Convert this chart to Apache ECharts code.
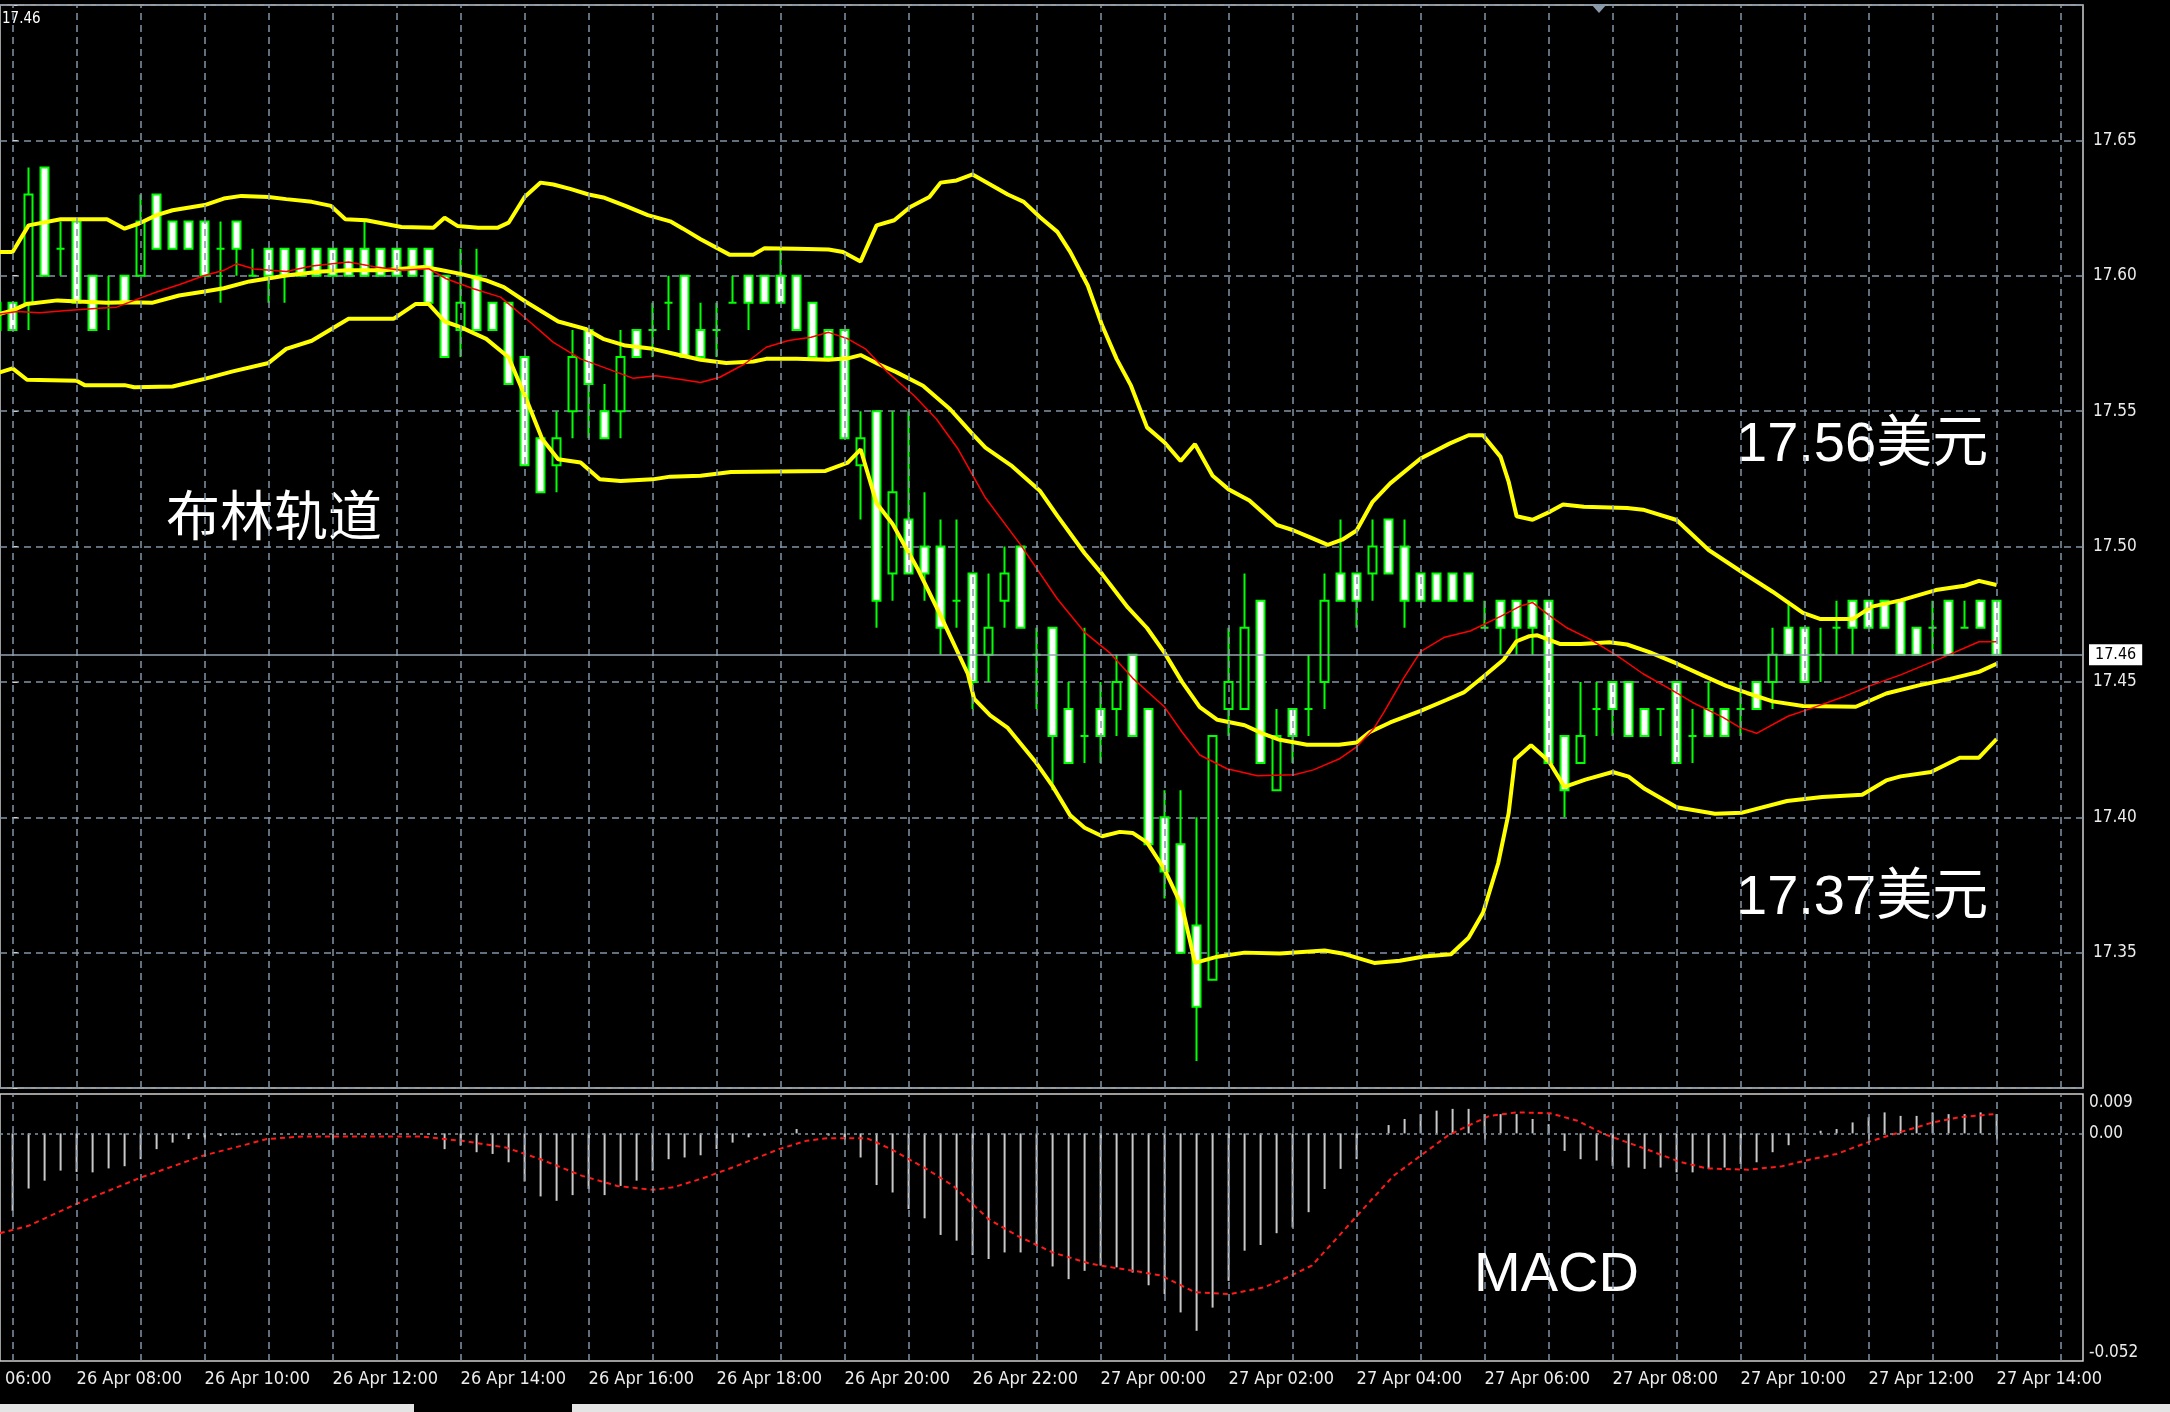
<!DOCTYPE html>
<html><head><meta charset="utf-8">
<script src="https://cdn.jsdelivr.net/npm/echarts@6/dist/echarts.min.js"></script>
<style>html,body{margin:0;padding:0;background:#000;overflow:hidden}#c{width:2170px;height:1412px}</style>
</head><body><div id="c"></div><script>
// ---- time axis: k = 15-minute step index, k=0 is 26 Apr 07:00 ----
const X_MIN = -0.7875;       // left edge of plot
const X_MAX = 129.4;         // right edge of plot
const FIRST_K = -1;          // first candle: 26 Apr 06:45
const hourTicks = [0,4,8,12,16,20,24,28,32,36,40,44,48,52,56,60,64,68,72,76,80,84,88,92,96,100,104,108,112,116,120,124,128];
const labelTicks = [4,12,20,28,36,44,52,60,68,76,84,92,100,108,116,124];
const timeLabels = ['26 Apr 08:00','26 Apr 10:00','26 Apr 12:00','26 Apr 14:00','26 Apr 16:00',
  '26 Apr 18:00','26 Apr 20:00','26 Apr 22:00','27 Apr 00:00','27 Apr 02:00','27 Apr 04:00','27 Apr 06:00',
  '27 Apr 08:00','27 Apr 10:00','27 Apr 12:00','27 Apr 14:00'];
const cutLabel = '26 Apr 06:00';

// ---- M15 candles (k = -1 .. 124) ----
const opens = [
17.59,17.59,17.59,17.64,17.61,17.62,17.60,17.59,17.60,17.60,
17.63,17.62,17.62,17.62,17.61,17.62,17.60,17.61,17.61,17.61,
17.61,17.61,17.61,17.61,17.61,17.61,17.61,17.61,17.60,17.58,
17.60,17.59,17.59,17.57,17.54,17.53,17.55,17.58,17.55,17.55,
17.58,17.58,17.59,17.60,17.58,17.58,17.59,17.60,17.60,17.60,
17.60,17.59,17.58,17.58,17.53,17.55,17.49,17.51,17.50,17.50,
17.48,17.49,17.46,17.48,17.50,17.46,17.47,17.44,17.43,17.44,
17.44,17.46,17.44,17.40,17.39,17.36,17.34,17.44,17.44,17.48,
17.41,17.44,17.44,17.45,17.49,17.49,17.49,17.51,17.50,17.49,
17.49,17.49,17.49,17.47,17.48,17.48,17.48,17.48,17.43,17.42,
17.44,17.45,17.45,17.44,17.44,17.45,17.43,17.44,17.44,17.44,
17.45,17.45,17.47,17.47,17.46,17.47,17.48,17.48,17.48,17.48,
17.47,17.47,17.48,17.47,17.48,17.48];
const closes = [
17.58,17.58,17.63,17.60,17.61,17.59,17.58,17.59,17.59,17.62,
17.61,17.61,17.61,17.60,17.61,17.61,17.60,17.60,17.60,17.60,
17.60,17.60,17.60,17.60,17.60,17.60,17.60,17.59,17.57,17.59,
17.58,17.58,17.56,17.53,17.52,17.54,17.57,17.56,17.54,17.57,
17.57,17.58,17.59,17.57,17.57,17.58,17.59,17.59,17.59,17.59,
17.58,17.57,17.57,17.54,17.54,17.48,17.52,17.49,17.49,17.47,
17.48,17.45,17.47,17.49,17.47,17.46,17.43,17.42,17.43,17.43,
17.45,17.43,17.39,17.38,17.35,17.33,17.43,17.45,17.47,17.42,
17.43,17.43,17.44,17.48,17.48,17.48,17.50,17.49,17.48,17.48,
17.48,17.48,17.48,17.47,17.47,17.47,17.47,17.42,17.41,17.43,
17.44,17.44,17.43,17.43,17.44,17.42,17.43,17.43,17.43,17.44,
17.44,17.46,17.46,17.45,17.46,17.47,17.47,17.47,17.47,17.46,
17.46,17.47,17.46,17.47,17.47,17.46];
const lows = [
17.58,17.58,17.58,17.60,17.60,17.59,17.58,17.58,17.59,17.60,
17.61,17.61,17.61,17.60,17.59,17.60,17.60,17.59,17.59,17.60,
17.60,17.60,17.60,17.60,17.60,17.60,17.60,17.59,17.57,17.57,
17.58,17.58,17.56,17.53,17.52,17.52,17.54,17.54,17.54,17.54,
17.57,17.57,17.58,17.57,17.57,17.57,17.59,17.58,17.59,17.59,
17.58,17.57,17.57,17.54,17.51,17.47,17.48,17.49,17.48,17.46,
17.47,17.44,17.45,17.47,17.47,17.44,17.41,17.42,17.42,17.42,
17.43,17.43,17.39,17.37,17.35,17.31,17.34,17.43,17.44,17.42,
17.41,17.42,17.43,17.44,17.48,17.47,17.48,17.49,17.47,17.48,
17.48,17.48,17.48,17.47,17.46,17.46,17.46,17.42,17.40,17.42,
17.43,17.43,17.43,17.43,17.43,17.42,17.42,17.43,17.43,17.43,
17.44,17.44,17.46,17.45,17.45,17.46,17.46,17.47,17.47,17.46,
17.46,17.46,17.46,17.47,17.47,17.46];
const highs = [
17.59,17.59,17.64,17.64,17.62,17.62,17.60,17.60,17.60,17.63,
17.63,17.62,17.62,17.62,17.62,17.62,17.61,17.61,17.61,17.61,
17.61,17.61,17.61,17.62,17.61,17.61,17.61,17.61,17.60,17.61,
17.61,17.59,17.59,17.57,17.54,17.55,17.58,17.58,17.56,17.58,
17.58,17.59,17.60,17.60,17.59,17.59,17.60,17.60,17.60,17.61,
17.60,17.59,17.58,17.58,17.55,17.55,17.55,17.55,17.52,17.51,
17.51,17.49,17.49,17.50,17.50,17.47,17.47,17.45,17.47,17.45,
17.46,17.46,17.44,17.41,17.41,17.40,17.43,17.47,17.49,17.48,
17.44,17.44,17.46,17.49,17.51,17.49,17.51,17.51,17.51,17.49,
17.49,17.49,17.49,17.48,17.48,17.48,17.48,17.48,17.43,17.45,
17.45,17.45,17.45,17.44,17.44,17.45,17.44,17.45,17.44,17.45,
17.45,17.47,17.48,17.47,17.47,17.48,17.48,17.48,17.48,17.48,
17.47,17.48,17.48,17.48,17.48,17.48];
const lastPrice = 17.46;

// ---- Bollinger bands and red moving average: [k, price] ----
const bbUpper = [[-0.8,17.6088],[0,17.6088],[1,17.6186],[3,17.6209],[5.9,17.6209],[7,17.6174],[7.9,17.6193],[9,17.6224],[10,17.6242],[12,17.6261],[13.2,17.6285],[14.3,17.6295],[16,17.6291],[17.1,17.6283],[18.7,17.6273],[19.9,17.6258],[20.8,17.6209],[22.1,17.6205],[24.3,17.6180],[26.3,17.6177],[27,17.6214],[27.8,17.6184],[29.1,17.6177],[30.3,17.6177],[31,17.6196],[32,17.6291],[33,17.6344],[33.8,17.6337],[34.9,17.6320],[36,17.6300],[37,17.6288],[38.3,17.6258],[39.7,17.6224],[41.1,17.6201],[41.9,17.6174],[43,17.6135],[44.8,17.6078],[46.3,17.6078],[47,17.6102],[49,17.6100],[51,17.6097],[51.9,17.6088],[53,17.6053],[54,17.6186],[55.1,17.6205],[56.1,17.6254],[57.3,17.6291],[58,17.6344],[59,17.6352],[60,17.6374],[61.1,17.6337],[62.2,17.6300],[63.2,17.6273],[64.2,17.6217],[65.3,17.6162],[66.1,17.6088],[67.2,17.5964],[68.1,17.5816],[69,17.5693],[69.9,17.5594],[70.9,17.5440],[72,17.5384],[73,17.5316],[73.9,17.5378],[75,17.5261],[76,17.5211],[77.3,17.5170],[79,17.5080],[80,17.5061],[81.1,17.5034],[82.2,17.5006],[83.1,17.5025],[84,17.5059],[85,17.5165],[86.1,17.5233],[88,17.5325],[89.8,17.5380],[91,17.5411],[91.9,17.5411],[93,17.5331],[93.5,17.5240],[94,17.5112],[95,17.5099],[96.1,17.5129],[96.9,17.5155],[98.2,17.5147],[100.9,17.5142],[101.9,17.5136],[104,17.5098],[106,17.4987],[108.1,17.4905],[110,17.4833],[111.9,17.4755],[113,17.4732],[115,17.4732],[116.2,17.4778],[118,17.4801],[120.2,17.4839],[122,17.4855],[122.9,17.4873],[124,17.4858]];
const bbMiddle = [[-0.8,17.5859],[0,17.5872],[0.9,17.5896],[2.8,17.5909],[4.1,17.5905],[5.9,17.5900],[7.3,17.5902],[8.7,17.5900],[10.4,17.5927],[12,17.5942],[13.2,17.5954],[14.8,17.5979],[17.1,17.6001],[19.3,17.6016],[21,17.6020],[23.2,17.6020],[25.7,17.6032],[26.6,17.6023],[28,17.6007],[29.6,17.5983],[30.7,17.5958],[32.1,17.5903],[34.1,17.5831],[35.8,17.5804],[36.9,17.5767],[38.3,17.5742],[40,17.5730],[41.6,17.5708],[43,17.5690],[44.6,17.5678],[46.3,17.5683],[47.1,17.5693],[49,17.5693],[51,17.5690],[52.2,17.5695],[53,17.5707],[54.1,17.5674],[55.2,17.5645],[56.9,17.5594],[58.6,17.5507],[60,17.5415],[60.8,17.5365],[62.4,17.5300],[64.2,17.5206],[65.3,17.5113],[67,17.4975],[68.1,17.4898],[69.7,17.4775],[70.9,17.4699],[72,17.4607],[73.1,17.4499],[74.2,17.4407],[75.3,17.4360],[77,17.4340],[78.1,17.4310],[79.2,17.4286],[80.9,17.4268],[82.9,17.4268],[84,17.4276],[84.8,17.4314],[86.1,17.4350],[88,17.4393],[89.6,17.4433],[90.7,17.4461],[91.9,17.4518],[93.2,17.4583],[94,17.4650],[94.8,17.4669],[95.3,17.4672],[96.7,17.4640],[98,17.4640],[99.8,17.4646],[100.9,17.4638],[102.3,17.4610],[104,17.4568],[105.7,17.4522],[107.1,17.4485],[108.4,17.4459],[110,17.4428],[111.9,17.4411],[115.2,17.4408],[117.1,17.4457],[119.2,17.4488],[121.1,17.4511],[122.9,17.4537],[124,17.4567]];
const bbLower = [[-0.8,17.5643],[0,17.5658],[0.9,17.5616],[4,17.5612],[4.5,17.5596],[7,17.5596],[7.6,17.5588],[10,17.5591],[12,17.5619],[13.7,17.5646],[16,17.5678],[17.1,17.5730],[18.7,17.5760],[21,17.5841],[23.8,17.5841],[25.2,17.5896],[26,17.5896],[27,17.5831],[28,17.5810],[29.6,17.5767],[31,17.5699],[32.1,17.5545],[33.1,17.5397],[34.1,17.5322],[35.5,17.5310],[36.7,17.5248],[38,17.5242],[40,17.5248],[41.1,17.5258],[43,17.5261],[44.9,17.5275],[50.8,17.5279],[52.2,17.5310],[53,17.5359],[54,17.5160],[55,17.5083],[56.6,17.4914],[58,17.4745],[59.7,17.4530],[60.1,17.4437],[61.1,17.4376],[62.2,17.4330],[63.9,17.4207],[65,17.4115],[66.1,17.4007],[67,17.3961],[68.1,17.3930],[69.2,17.3946],[70,17.3942],[70.9,17.3907],[72,17.3807],[73.1,17.3669],[73.9,17.3462],[75.3,17.3485],[77,17.3500],[79.2,17.3497],[82,17.3508],[83.1,17.3497],[85.1,17.3462],[86.7,17.3470],[88.2,17.3486],[89.9,17.3494],[91,17.3555],[91.9,17.3647],[92.85,17.3830],[93.5,17.4014],[93.9,17.4213],[94.9,17.4266],[96,17.4208],[97,17.4112],[98.3,17.4139],[100,17.4167],[101,17.4150],[102,17.4105],[104,17.4037],[106.4,17.4013],[108.1,17.4017],[110.9,17.4060],[113.1,17.4075],[115.6,17.4083],[117.1,17.4136],[118,17.4151],[119.9,17.4167],[121.7,17.4220],[122.9,17.4220],[124,17.4289]];
const maRed = [[-0.8,17.5859],[0.3,17.5868],[1.7,17.5863],[3.4,17.5872],[5.4,17.5880],[6.5,17.5884],[7.6,17.5909],[9,17.5940],[10.4,17.5967],[12,17.6001],[13.2,17.6020],[14,17.6044],[15.1,17.6025],[17.1,17.6016],[18.7,17.6036],[21,17.6051],[22.7,17.6032],[24.3,17.6020],[26,17.6026],[27.1,17.5989],[28.8,17.5952],[30.5,17.5921],[32.1,17.5841],[33.8,17.5754],[35.5,17.5693],[37.2,17.5656],[38.8,17.5621],[40.2,17.5631],[41.6,17.5619],[43,17.5606],[44.2,17.5625],[45.75,17.5674],[47.1,17.5736],[48.5,17.5761],[49.9,17.5773],[51,17.5791],[52.2,17.5767],[53.3,17.5730],[54.7,17.5643],[56.35,17.5557],[57.75,17.5470],[59.1,17.5359],[60.8,17.5180],[63,17.5006],[65.3,17.4806],[67,17.4683],[68.6,17.4606],[70,17.4514],[72,17.4407],[73.1,17.4314],[74.2,17.4230],[75.9,17.4179],[77.8,17.4153],[80.1,17.4157],[81.3,17.4175],[82.9,17.4215],[84,17.4260],[85.1,17.4330],[85.7,17.4387],[86.9,17.4510],[88,17.4612],[89.5,17.4665],[91.1,17.4688],[93,17.4742],[94.2,17.4779],[95,17.4793],[96.1,17.4743],[97.1,17.4701],[98.6,17.4657],[100.3,17.4596],[101.9,17.4530],[103.6,17.4473],[105,17.4424],[106.9,17.4369],[108,17.4330],[109,17.4310],[110.96,17.4373],[112.5,17.4404],[114.3,17.4442],[116.2,17.4488],[118,17.4526],[120.5,17.4587],[122.9,17.4648],[124,17.4648]];

// ---- MACD histogram (k = 0 .. 124) and signal line ----
const macdHist = [
-0.0177,-0.0126,-0.0108,-0.0085,-0.0088,-0.0089,-0.0080,-0.0075,-0.0059,-0.0036,
-0.0021,-0.0013,-0.0009,-0.0006,-0.0004,-0.0002,0,0,0,0,
0,0,0,0,0,0,-0.0002,-0.0036,-0.0028,-0.0043,
-0.0047,-0.0066,-0.0110,-0.0144,-0.0154,-0.0141,-0.0127,-0.0141,-0.0120,-0.0108,
-0.0085,-0.0059,-0.0055,-0.0050,-0.0036,-0.0021,-0.0009,-0.0005,0.0002,0.0010,
-0.0002,-0.0005,-0.0009,-0.0055,-0.0118,-0.0135,-0.0173,-0.0194,-0.0232,-0.0245,
-0.0278,-0.0287,-0.0272,-0.0272,-0.0257,-0.0304,-0.0333,-0.0314,-0.0302,-0.0306,
-0.0318,-0.0347,-0.0367,-0.0409,-0.0451,-0.0398,-0.0337,-0.0268,-0.0255,-0.0228,
-0.0215,-0.0180,-0.0127,-0.0081,-0.0059,-0.0002,0.0019,0.0033,0.0044,0.0052,
0.0056,0.0056,0.0044,0.0044,0.0044,0.0033,0.0021,-0.0040,-0.0059,-0.0062,
-0.0074,-0.0078,-0.0081,-0.0078,-0.0089,-0.0089,-0.0081,-0.0078,-0.0070,-0.0066,
-0.0043,-0.0027,-0.0002,0.0006,0.0010,0.0025,0.0037,0.0048,0.0040,0.0040,
0.0048,0.0044,0.0044,0.0048,0.0044];
const macdSignal = [[-0.8,-0.0228],[1,-0.0211],[4,-0.0161],[8,-0.0101],[11.9,-0.0051],[15.9,-0.0013],[18.1,-0.0007],[25.5,-0.0007],[28.1,-0.0017],[30.8,-0.0032],[33,-0.0059],[35.6,-0.0097],[37.8,-0.0120],[40,-0.0129],[41.3,-0.0123],[43.1,-0.0103],[45.2,-0.0075],[47.9,-0.0036],[49.6,-0.0017],[50.9,-0.0011],[53.4,-0.0011],[54.9,-0.0036],[57.1,-0.0081],[58.8,-0.0120],[61,-0.0196],[62.8,-0.0234],[65,-0.0272],[67.2,-0.0296],[68,-0.0302],[70.1,-0.0314],[71.8,-0.0325],[73.9,-0.0363],[76.1,-0.0367],[78.2,-0.0352],[79.9,-0.0325],[81.2,-0.0302],[82.9,-0.0234],[84.6,-0.0165],[86.3,-0.0097],[88,-0.0051],[89.7,-0.0005],[91,0.0018],[92.3,0.0040],[94,0.0048],[96.1,0.0046],[97.8,0.0029],[99.5,-0.0002],[102.1,-0.0036],[104.2,-0.0065],[105.9,-0.0080],[108.5,-0.0083],[110.6,-0.0075],[112.3,-0.0060],[114,-0.0047],[116.2,-0.0017],[117.9,0.0002],[120,0.0025],[121.7,0.0037],[123.8,0.0044]];
const macdMin = -0.052, macdMax = 0.009;

// ---- build ----
const candleData = opens.map((o, i) => [FIRST_K + i, o, closes[i], lows[i], highs[i]]);
const histData = macdHist.map((v, i) => [i, v]);

const condensed = "'DejaVu Sans Condensed','Liberation Sans Narrow','DejaVu Sans',sans-serif";
const gridLine = {color: '#8395a7', type: [7, 5], width: 1.5};
const bandStyle = {color: '#ffff00', width: 4};
const borderCol = '#d0d0d0';
const vGrid = hourTicks.map(v => ({xAxis: v}));

function gridSeries(xi, yi) {
  return {type: 'line', xAxisIndex: xi, yAxisIndex: yi, data: [], z: 1, silent: true,
    markLine: {silent: true, symbol: 'none', animation: false, label: {show: false},
      lineStyle: gridLine, data: vGrid}};
}

const chart = echarts.init(document.getElementById('c'), null, {renderer: 'canvas'});
chart.setOption({
  backgroundColor: '#000',
  animation: false,
  grid: [
    {left: 0, right: 87, top: 5, height: 1083, show: true, borderColor: borderCol, borderWidth: 1.5},
    {left: 0, right: 87, top: 1094, height: 267, show: true, borderColor: borderCol, borderWidth: 1.5}
  ],
  xAxis: [
    {type: 'value', gridIndex: 0, min: X_MIN, max: X_MAX,
      axisLine: {show: false}, axisTick: {show: false}, axisLabel: {show: false}, splitLine: {show: false}},
    {type: 'value', gridIndex: 1, min: X_MIN, max: X_MAX,
      axisLine: {show: false},
      axisTick: {show: true, length: 6, inside: false, customValues: labelTicks, lineStyle: {color: borderCol, width: 1.5}},
      axisLabel: {show: true, color: '#ececec', fontFamily: condensed, fontSize: 18, align: 'left', margin: 9,
        customValues: labelTicks,
        formatter: v => { const j = labelTicks.indexOf(Math.round(v)); return j >= 0 ? timeLabels[j] : ''; }},
      splitLine: {show: false}}
  ],
  yAxis: [
    {type: 'value', gridIndex: 0, position: 'right', min: 17.30, max: 17.70, interval: 0.05,
      axisLine: {show: false}, axisTick: {show: true, length: 5, lineStyle: {color: borderCol}},
      axisLabel: {color: '#ececec', fontFamily: condensed, fontSize: 17, margin: 10,
        formatter: v => (Math.abs(v - 17.30) < 1e-6 || Math.abs(v - 17.70) < 1e-6) ? '' : v.toFixed(2)},
      splitLine: {show: true, lineStyle: gridLine}},
    {type: 'value', gridIndex: 1, position: 'right', min: macdMin, max: macdMax, interval: macdMax - macdMin,
      axisLine: {show: false}, axisTick: {show: false}, splitLine: {show: false},
      axisLabel: {color: '#ececec', fontFamily: condensed, fontSize: 17, margin: 6,
        customValues: [macdMin, 0, macdMax],
        verticalAlignMaxLabel: 'top', verticalAlignMinLabel: 'bottom',
        formatter: v => Math.abs(v) < 1e-9 ? '0.00' : v.toFixed(3)}}
  ],
  series: [
    gridSeries(0, 0),
    gridSeries(1, 1),
    {type: 'candlestick', xAxisIndex: 0, yAxisIndex: 0, barWidth: 8, data: candleData, z: 2,
      itemStyle: {color: '#000000', color0: '#ffffff', borderColor: '#00ff00', borderColor0: '#00ff00',
        borderColorDoji: '#00ff00', borderWidth: 2},
      markLine: {silent: true, symbol: 'none', animation: false,
        lineStyle: {color: '#95a3b1', type: 'solid', width: 1.5},
        label: {show: true, position: 'end', distance: 6, formatter: () => lastPrice.toFixed(2),
          color: '#000', backgroundColor: '#fff', padding: [3, 6, 2, 6], fontFamily: condensed, fontSize: 16},
        data: [{yAxis: lastPrice}]}},
    {type: 'line', xAxisIndex: 0, yAxisIndex: 0, data: bbUpper, symbol: 'none', z: 3, lineStyle: bandStyle},
    {type: 'line', xAxisIndex: 0, yAxisIndex: 0, data: bbMiddle, symbol: 'none', z: 3, lineStyle: bandStyle},
    {type: 'line', xAxisIndex: 0, yAxisIndex: 0, data: bbLower, symbol: 'none', z: 3, lineStyle: bandStyle},
    {type: 'line', xAxisIndex: 0, yAxisIndex: 0, data: maRed, symbol: 'none', z: 3, lineStyle: {color: '#ff0000', width: 1.5}},
    {type: 'bar', xAxisIndex: 1, yAxisIndex: 1, data: histData, barWidth: 2, z: 2, itemStyle: {color: '#c8c8c8'},
      markLine: {silent: true, symbol: 'none', animation: false, label: {show: false},
        lineStyle: {color: '#8395a7', type: [3, 4], width: 1.5}, data: [{yAxis: 0}]}},
    {type: 'line', xAxisIndex: 1, yAxisIndex: 1, data: macdSignal, symbol: 'none', z: 3,
      lineStyle: {color: '#ff1a1a', width: 2, type: [5, 4]}}
  ],
  graphic: [
    {type: 'text', x: 2, y: 19, style: {text: '17.46', fill: '#ffffff', font: "15px " + condensed, verticalAlign: 'middle', textVerticalAlign: 'middle'}},
    {type: 'text', x: -54, y: 1379, style: {text: cutLabel, fill: '#ececec', font: "18px " + condensed, verticalAlign: 'middle', textVerticalAlign: 'middle'}},
    {type: 'polygon', shape: {points: [[1591, 4], [1607, 4], [1599, 13]]}, style: {fill: '#8a9aaa'}},
    {type: 'text', x: 166, y: 515, style: {text: '布林轨道', fill: '#ffffff', font: "54px 'Noto Sans CJK SC'", verticalAlign: 'middle', textVerticalAlign: 'middle'}},
    {type: 'text', x: 1736, y: 446, style: {text: '17.56美元', fill: '#ffffff', font: "56px 'Liberation Sans','Noto Sans CJK SC'", verticalAlign: 'middle', textVerticalAlign: 'middle'}},
    {type: 'text', x: 1736, y: 899, style: {text: '17.37美元', fill: '#ffffff', font: "56px 'Liberation Sans','Noto Sans CJK SC'", verticalAlign: 'middle', textVerticalAlign: 'middle'}},
    {type: 'text', x: 1474, y: 1276, style: {text: 'MACD', fill: '#ffffff', font: "56px 'Liberation Sans'", verticalAlign: 'middle', textVerticalAlign: 'middle'}},
    {type: 'rect', shape: {x: 0, y: 1404, width: 414, height: 8}, style: {fill: '#e4e4e4'}},
    {type: 'rect', shape: {x: 572, y: 1404, width: 1598, height: 8}, style: {fill: '#e4e4e4'}}
  ]
});
</script></body></html>
